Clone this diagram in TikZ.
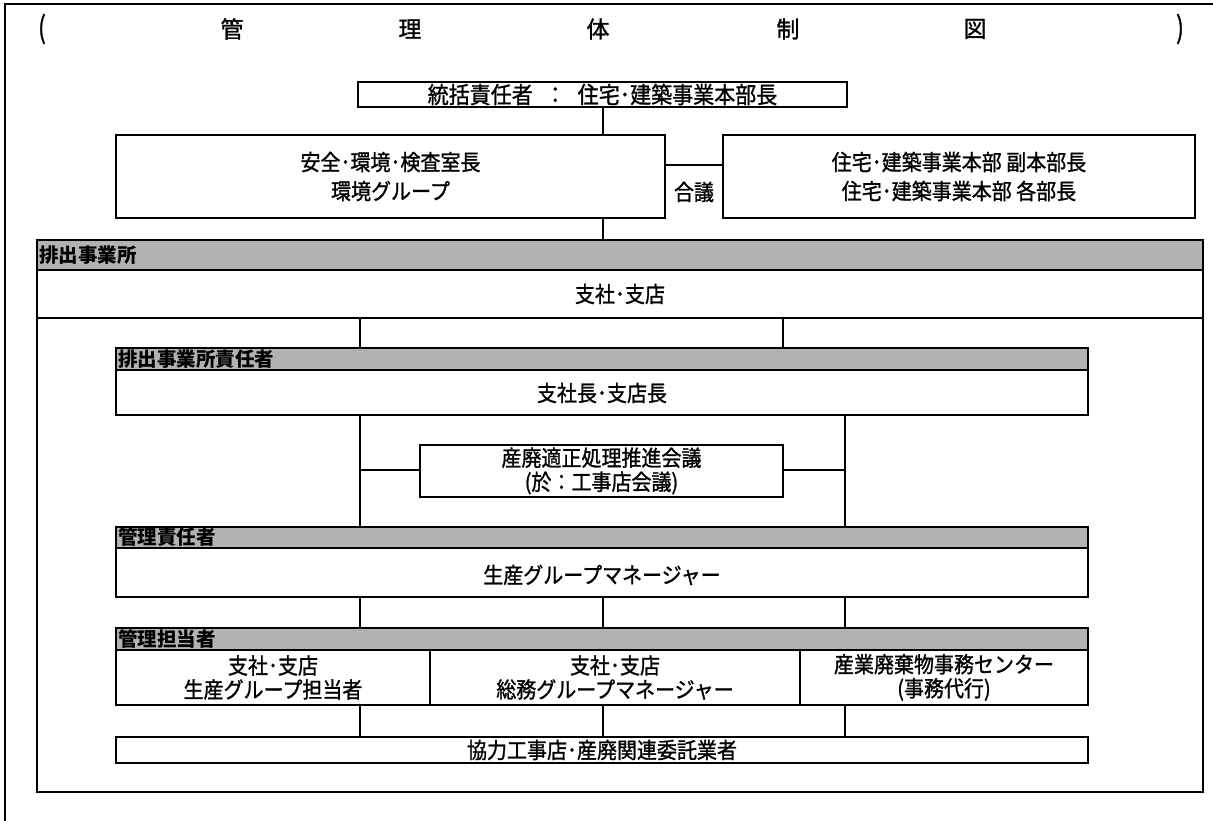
\documentclass[tikz,border=0pt]{standalone}
\usepackage{graphicx}
\usepackage{fontspec}
\setmainfont{Noto Sans CJK JP}[UprightFeatures={FakeBold=1.2}]
\newcommand\bodyfs{\fontsize{20}{25}\selectfont}
\newcommand\titlefs{\fontsize{23}{26}\selectfont}
\newcommand\hdrfs{\fontsize{19.5}{20}\selectfont\bfseries}
\newcommand\tall[1]{\scalebox{1}[1.1]{#1}}
\begin{document}
\begin{tikzpicture}[x=1pt,y=-1pt,
  box/.style={draw, line width=1.7pt, inner sep=0pt, align=center, font=\bodyfs},
  hdr/.style={draw, line width=1.7pt, inner sep=0pt, fill=black!30},
  hlabel/.style={anchor=west, inner sep=0pt, font=\hdrfs},
  txt/.style={inner sep=0pt, align=center, font=\bodyfs},
  ttl/.style={inner sep=0pt, font=\titlefs},
  conn/.style={line width=1.1pt}]
\useasboundingbox (0,0) rectangle (1213,821);
% outer frame
\draw[line width=1.6pt] (5,821) -- (5,4) -- (1213,4);
% title
\node[ttl] (t1) at (42,29) {\scalebox{1}[1.3]{(}};
\node[ttl] (t2) at (232,29) {管};
\node[ttl] (t3) at (410,29) {理};
\node[ttl] (t4) at (598,29) {体};
\node[ttl] (t5) at (788,29) {制};
\node[ttl] (t6) at (975,29) {図};
\node[ttl] (t7) at (1180,29) {\scalebox{1}[1.3]{)}};
% columns
\coordinate (cA) at (360,0);
\coordinate (cM) at (603,0);
\coordinate (cB) at (783,0);
\coordinate (cC) at (845,0);
% top
\node[box, minimum width=489pt, minimum height=25pt, font=\fontsize{21}{25}\selectfont] (chief) at (602.5,94.5) {\tall{統括責任者\hspace{12pt}：\hspace{12pt}住宅･建築事業本部長}};
\node[box, minimum width=549pt, minimum height=83pt, font=\fontsize{20}{29}\selectfont] (env) at (390.5,176.5) {\tall{安全･環境･検査室長}\\\tall{環境グループ}};
\node[box, minimum width=472pt, minimum height=83pt, font=\fontsize{20}{29}\selectfont] (vice) at (959,176.5) {\tall{住宅･建築事業本部 副本部長}\\\tall{住宅･建築事業本部 各部長}};
\node[txt] (gogi) at (694,192) {\tall{合議}};
\draw[conn] (chief.south -| cM) -- (env.north -| cM);
\draw[conn] ([yshift=11.5pt]env.east) -- ([yshift=11.5pt]vice.west);
% big frame
\node[draw, line width=2.7pt, inner sep=0pt, minimum width=1166pt, minimum height=552pt] (frame) at (620,516) {};
\draw[conn] (env.south -| cM) -- (frame.north -| cM);
\node[hdr, minimum width=1166pt, minimum height=30pt] (h1) at (620,255) {};
\node[hlabel] (h1l) at ([xshift=3pt]h1.west) {排出事業所};
\node[box, minimum width=1166pt, minimum height=48pt] (branch) at (620,294) {\tall{支社･支店}};
% responsible
\node[box, minimum width=972pt, minimum height=67pt] (resp) at (602,381.5) {};
\node[hdr, minimum width=972pt, minimum height=22pt] (resph) at (602,359) {};
\node[hlabel] (respl) at ([xshift=3pt]resph.west) {排出事業所責任者};
\node[txt] (respt) at (602,393) {\tall{支社長･支店長}};
\draw[conn] (branch.south -| cA) -- (resph.north -| cA);
\draw[conn] (branch.south -| cB) -- (resph.north -| cB);
% meeting
\node[box, minimum width=363pt, minimum height=52pt, font=\fontsize{20}{24}\selectfont] (meet) at (601.5,471) {\tall{産廃適正処理推進会議}\\\tall{(於：工事店会議)}};
% manager
\node[box, minimum width=972pt, minimum height=70pt] (kanri) at (602,562) {};
\node[hdr, minimum width=972pt, minimum height=21pt] (kanrih) at (602,537.5) {};
\node[hlabel] (kanril) at ([xshift=3pt]kanrih.west) {管理責任者};
\node[txt] (kanrit) at (602,575) {\tall{生産グループマネージャー}};
\draw[conn] (resp.south -| cA) -- (kanrih.north -| cA);
\draw[conn] (resp.south -| cC) -- (kanrih.north -| cC);
\draw[conn] ([yshift=1pt]meet.west) -- ([yshift=1pt]meet.west -| cA);
\draw[conn] ([yshift=1pt]meet.east) -- ([yshift=1pt]meet.east -| cC);
% staff
\node[box, minimum width=972pt, minimum height=77pt] (tanto) at (602,666.5) {};
\node[hdr, minimum width=972pt, minimum height=22pt] (tantoh) at (602,639) {};
\node[hlabel] (tantol) at ([xshift=3pt]tantoh.west) {管理担当者};
\node[box, minimum width=314pt, minimum height=55pt, font=\fontsize{20}{24}\selectfont] (s1) at (273,677.5) {\tall{支社･支店}\\\tall{生産グループ担当者}};
\node[box, minimum width=370pt, minimum height=55pt, font=\fontsize{20}{24}\selectfont] (s2) at (615,677.5) {\tall{支社･支店}\\\tall{総務グループマネージャー}};
\node[box, minimum width=288pt, minimum height=55pt, font=\fontsize{20}{24}\selectfont] (s3) at (944,677.5) {\tall{産業廃棄物事務センター}\\\tall{(事務代行)}};
\draw[conn] (kanri.south -| cA) -- (tantoh.north -| cA);
\draw[conn] (kanri.south -| cM) -- (tantoh.north -| cM);
\draw[conn] (kanri.south -| cC) -- (tantoh.north -| cC);
% contractors
\node[box, minimum width=972pt, minimum height=26pt] (coop) at (602,750) {\tall{協力工事店･産廃関連委託業者}};
\draw[conn] (tanto.south -| cA) -- (coop.north -| cA);
\draw[conn] (tanto.south -| cM) -- (coop.north -| cM);
\draw[conn] (tanto.south -| cC) -- (coop.north -| cC);
\end{tikzpicture}
\end{document}
